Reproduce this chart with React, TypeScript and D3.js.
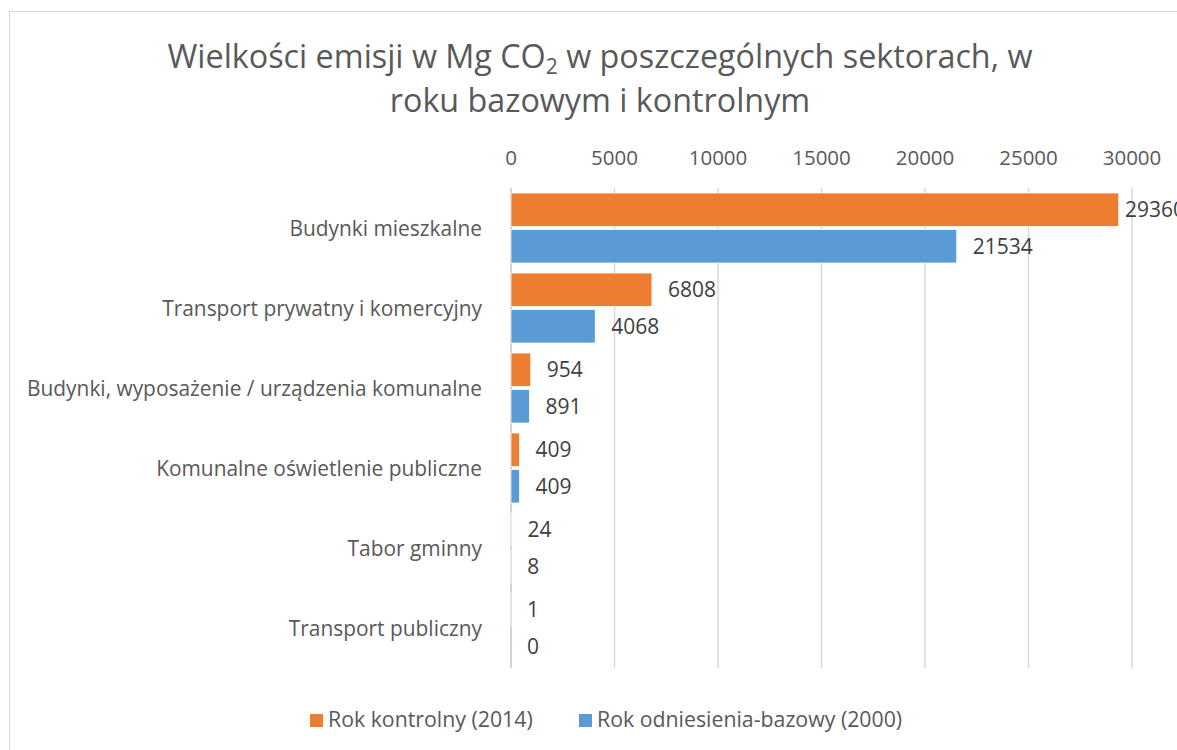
import * as d3 from 'd3';

const categories = [
  'Budynki mieszkalne',
  'Transport prywatny i komercyjny',
  'Budynki, wyposażenie / urządzenia komunalne',
  'Komunalne oświetlenie publiczne',
  'Tabor gminny',
  'Transport publiczny',
];
const control2014 = [29360, 6808, 954, 409, 24, 1];
const base2000 = [21534, 4068, 891, 409, 8, 0];
const xTicks = [0, 5000, 10000, 15000, 20000, 25000, 30000];
const seriesNames = ['Rok kontrolny (2014)', 'Rok odniesienia-bazowy (2000)'];
const colors = ['#ED7D31', '#5B9BD5'];

const W = 1177;
const H = 750;
const font = '"Open Sans", "Noto Sans", sans-serif';

export default function App() {
  const x = d3.scaleLinear().domain([0, 30000]).range([511, 1132]);
  const y = d3.scaleBand<string>().domain(categories).range([188, 668]).paddingInner(0.125).paddingOuter(0.0625);
  const inner = d3.scaleBand<number>().domain([0, 1]).range([0, y.bandwidth()]).paddingInner(0.085);
  const series = [control2014, base2000];
  // Excel keeps the last label inside the chart area, so it is clipped like in the original
  const labelMax = 1125;

  return (
    <svg width={W} height={H} style={{ position: 'absolute', left: 0, top: 0, background: '#fff' }} fontFamily={font}>
      <rect x={9.5} y={11.5} width={W + 20} height={H + 20} fill="#fff" stroke="#D9D9D9" />
      <text x={600} y={68} textAnchor="middle" fontSize={32.3} fill="#595959">
        Wielkości emisji w Mg CO<tspan fontSize={21} dy={6}>2</tspan>
        <tspan dy={-6}> w poszczególnych sektorach, w</tspan>
      </text>
      <text x={600} y={112} textAnchor="middle" fontSize={32.3} fill="#595959">
        roku bazowym i kontrolnym
      </text>
      {xTicks.map((t) => (
        <g key={t}>
          <line x1={x(t)} x2={x(t)} y1={188} y2={668} stroke={t === 0 ? '#C6C6C6' : '#D9D9D9'} strokeWidth={1.5} />
          <text x={x(t)} y={165} textAnchor="middle" fontSize={20.5} fill="#595959">{t}</text>
        </g>
      ))}
      {categories.map((c) => (
        <text key={c} x={482} y={(y(c) ?? 0) + y.bandwidth() / 2 + 7.5} textAnchor="end" fontSize={20.9} fill="#595959">{c}</text>
      ))}
      {series.map((vals, si) =>
        vals.map((v, i) => {
          const c = categories[i];
          const by = (y(c) ?? 0) + (inner(si) ?? 0);
          const bh = inner.bandwidth();
          const w = x(v) - x(0);
          return (
            <g key={`${si}-${i}`}>
              {w > 0 && <rect x={x(0)} y={by} width={w} height={bh} fill={colors[si]} stroke="#fff" strokeWidth={0.75} />}
              <text x={Math.min(x(v) + 16, labelMax)} y={by + bh / 2 + 7.5} fontSize={21} fill="#404040">{v}</text>
            </g>
          );
        })
      )}
      {seriesNames.map((n, i) => {
        const lx = i === 0 ? 310 : 579;
        return (
          <g key={n}>
            <rect x={lx} y={714} width={13} height={13} fill={colors[i]} />
            <text x={lx + 18} y={727} fontSize={21.3} fill="#595959">{n}</text>
          </g>
        );
      })}
    </svg>
  );
}
